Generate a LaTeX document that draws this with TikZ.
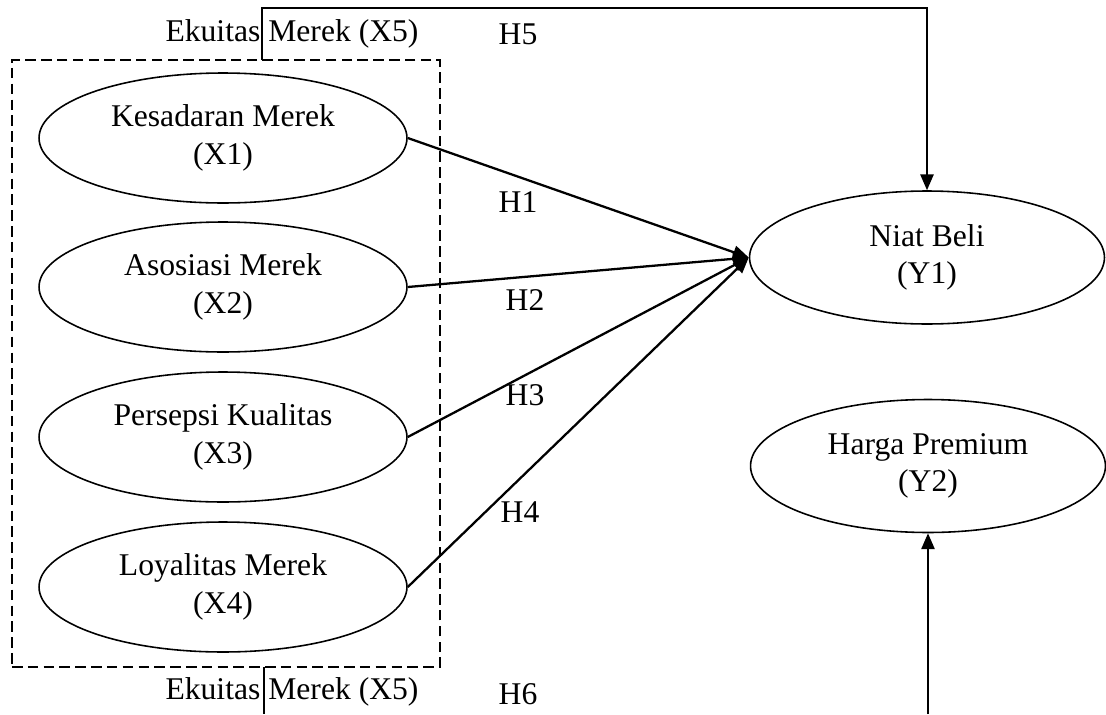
\documentclass[tikz,border=0pt]{standalone}
\usepackage{fontspec}
\setmainfont{Liberation Serif}
\usetikzlibrary{arrows.meta,shapes.geometric}
\begin{document}
\begin{tikzpicture}[x=0.02cm,y=-0.02cm,
  every node/.style={font=\fontsize{18}{21.5}\selectfont},
  xvar/.style={draw,ellipse,line width=0.9pt,minimum width=7.36cm,minimum height=2.6cm,inner sep=0pt,align=center},
  yvar/.style={draw,ellipse,line width=0.9pt,minimum width=7.1cm,minimum height=2.66cm,inner sep=0pt,align=center},
  path/.style={line width=1.3pt,-{Triangle[length=9pt,width=7.5pt]}},
  link/.style={line width=1.1pt},
  lbl/.style={inner sep=0pt}]
\useasboundingbox (0,0) rectangle (1106,714);
\node[draw,dash pattern=on 6pt off 3pt,line width=0.8pt,minimum width=8.56cm,minimum height=12.14cm,inner sep=0pt] (box) at (226,363.5) {};
\node[xvar] (x1) at (223,138) {Kesadaran Merek\\(X1)};
\node[xvar] (x2) at (223,287) {Asosiasi Merek\\(X2)};
\node[xvar] (x3) at (223,437) {Persepsi Kualitas\\(X3)};
\node[xvar] (x4) at (223,587) {Loyalitas Merek\\(X4)};
\node[yvar] (y1) at (927,257.5) {Niat Beli\\(Y1)};
\node[yvar] (y2) at (928,466) {Harga Premium\\(Y2)};
\draw[path] (x1.east) -- (y1.west);
\draw[path] (x2.east) -- (y1.west);
\draw[path] (x3.east) -- (y1.west);
\draw[path] (x4.east) -- (y1.west);
\coordinate (t0) at (262,60);
\coordinate (t1) at (262,8);
\draw[link,-{Triangle[length=9pt,width=7.5pt]}] (t0) -- (t1) -| (y1.north);
\coordinate (b0) at (264,667);
\coordinate (b1) at (264,714);
\draw[line width=0.8pt] (b0) -- (b1);
\coordinate (b2) at (928,714);
\draw[link,-{Triangle[length=9pt,width=7.5pt]}] (b2) -- (y2.south);
\node[lbl] (e5t) at (292,34) {Ekuitas Merek (X5)};
\node[lbl] (h5) at (518,34) {H5};
\node[lbl] (e5b) at (292,692) {Ekuitas Merek (X5)};
\node[lbl] (h6) at (518,694) {H6};
\node[lbl] (h1) at (518,202) {H1};
\node[lbl] (h2) at (525,300) {H2};
\node[lbl] (h3) at (525,395) {H3};
\node[lbl] (h4) at (520,512) {H4};
\end{tikzpicture}
\end{document}
